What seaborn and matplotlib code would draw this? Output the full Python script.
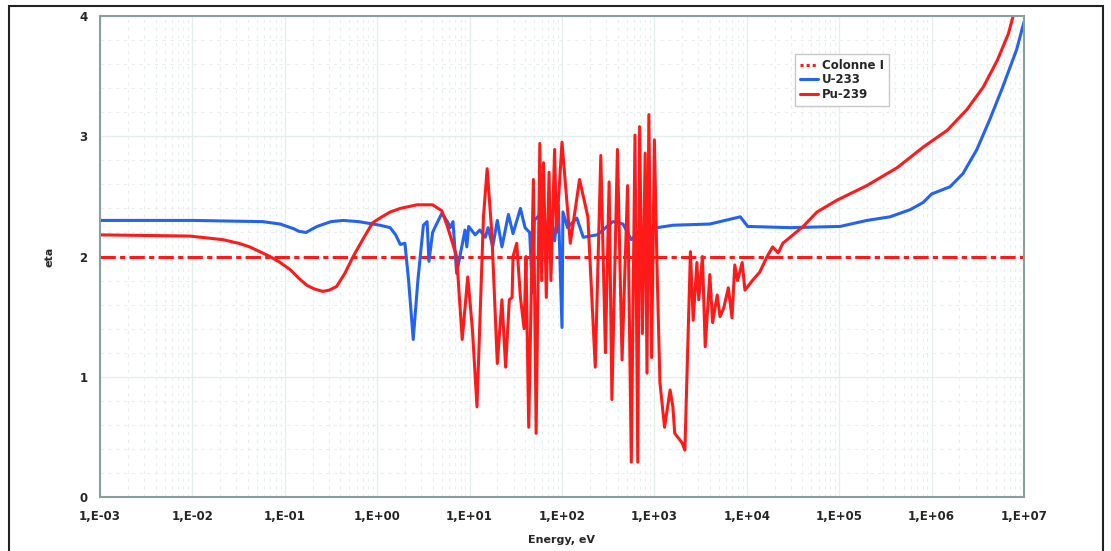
"""Eta vs neutron energy for U-233 and Pu-239."""

import numpy as np
import pandas as pd
import matplotlib
matplotlib.use("Agg")
import matplotlib.pyplot as plt
from matplotlib.lines import Line2D
from matplotlib.patches import Rectangle
import seaborn as sns

# data (energy given as log10 of eV)
u233_log_e = [-3.00, -2.00, -1.24, -1.05, -0.90, -0.85, -0.77, -0.70, -0.65, -0.50,
              -0.37, -0.20, 0.03, 0.14, 0.20, 0.25, 0.30, 0.34, 0.39, 0.44, 0.50,
              0.54, 0.56, 0.60, 0.63, 0.70, 0.76, 0.79, 0.82, 0.86, 0.95, 0.97,
              0.99, 1.06, 1.11, 1.17, 1.20, 1.25, 1.30, 1.35, 1.42, 1.47, 1.55,
              1.60, 1.65, 1.68, 1.70, 1.76, 1.82, 1.87, 1.92, 1.96, 2.00, 2.01,
              2.06, 2.16, 2.23, 2.38, 2.55, 2.66, 2.75, 2.82, 3.03, 3.20, 3.60,
              3.93, 4.01, 4.47, 5.01, 5.30, 5.55, 5.77, 5.91, 6.00, 6.20, 6.34,
              6.49, 6.63, 6.77, 6.92, 7.00]
u233_eta = [2.30, 2.30, 2.29, 2.27, 2.23, 2.21, 2.20, 2.23, 2.25, 2.29,
            2.30, 2.29, 2.26, 2.24, 2.18, 2.10, 2.11, 1.80, 1.31, 1.80, 2.26,
            2.29, 1.96, 2.20, 2.25, 2.36, 2.29, 2.24, 2.29, 1.86, 2.22, 2.08,
            2.25, 2.18, 2.22, 2.16, 2.24, 2.08, 2.30, 2.08, 2.35, 2.19, 2.40,
            2.24, 2.20, 1.70, 2.30, 2.35, 2.17, 2.39, 2.13, 2.43, 1.41, 2.37,
            2.24, 2.32, 2.16, 2.18, 2.29, 2.27, 2.14, 2.20, 2.24, 2.26, 2.27,
            2.33, 2.25, 2.24, 2.25, 2.30, 2.33, 2.39, 2.45, 2.52, 2.58, 2.69,
            2.89, 3.14, 3.41, 3.72, 3.95]

pu239_log_e = [-3.00, -2.03, -1.67, -1.50, -1.38, -1.16, -1.05, -0.94, -0.85, -0.76,
               -0.68, -0.59, -0.52, -0.44, -0.35, -0.26, -0.15, -0.05, 0.03, 0.14,
               0.25, 0.43, 0.60, 0.70, 0.76, 0.86, 0.92, 0.98, 1.03, 1.08,
               1.15, 1.19, 1.24, 1.30, 1.35, 1.39, 1.43, 1.46, 1.47, 1.51, 1.55,
               1.59, 1.61, 1.64, 1.69, 1.72, 1.76, 1.78, 1.80, 1.83, 1.86, 1.88,
               1.92, 1.94, 2.00, 2.09, 2.19, 2.28, 2.36, 2.42, 2.47, 2.51, 2.54,
               2.60, 2.65, 2.71, 2.75, 2.79, 2.82, 2.84, 2.87, 2.90, 2.92, 2.94,
               2.97, 3.00, 3.03, 3.06, 3.11, 3.17, 3.20, 3.22, 3.30, 3.33, 3.39,
               3.42, 3.46, 3.48, 3.52, 3.55, 3.60, 3.63, 3.68, 3.71, 3.75, 3.80,
               3.84, 3.87, 3.90, 3.95, 3.98, 4.06, 4.14, 4.22, 4.28, 4.34, 4.39,
               4.50, 4.61, 4.76, 4.98, 5.30, 5.63, 5.91, 6.17, 6.38, 6.56, 6.71,
               6.83, 6.90]
pu239_eta = [2.18, 2.17, 2.14, 2.11, 2.08, 2.00, 1.95, 1.89, 1.82, 1.76,
             1.73, 1.71, 1.72, 1.75, 1.86, 2.00, 2.15, 2.28, 2.32, 2.37,
             2.40, 2.43, 2.43, 2.38, 2.25, 2.00, 1.31, 1.83, 1.40, 0.75,
             2.33, 2.73, 2.20, 1.11, 1.64, 1.08, 1.64, 1.66, 2.00, 2.11, 1.66,
             1.40, 2.00, 0.58, 2.64, 0.53, 2.94, 1.80, 2.78, 1.66, 2.70, 1.80,
             2.89, 2.20, 2.95, 2.11, 2.64, 2.33, 1.08, 2.84, 1.20, 2.62, 0.81,
             2.89, 1.14, 2.59, 0.29, 3.01, 0.29, 3.08, 1.36, 2.86, 1.03, 3.18,
             1.16, 2.97, 1.86, 0.95, 0.58, 0.89, 0.75, 0.53, 0.45, 0.39, 2.04,
             1.47, 1.95, 1.64, 2.00, 1.25, 1.85, 1.45, 1.68, 1.50, 1.57, 1.74,
             1.49, 1.93, 1.80, 1.95, 1.72, 1.80, 1.87, 2.00, 2.08, 2.03, 2.11,
             2.18, 2.25, 2.37, 2.47, 2.59, 2.74, 2.91, 3.05, 3.22, 3.41, 3.63,
             3.85, 4.05]

colonne_energy = [1e-3, 1e7]
colonne_eta = [2.0, 2.0]

x_ticks = [1e-3, 1e-2, 1e-1, 1e0, 1e1, 1e2, 1e3, 1e4, 1e5, 1e6, 1e7]
x_tick_labels = ["1,E-03", "1,E-02", "1,E-01", "1,E+00", "1,E+01", "1,E+02",
                 "1,E+03", "1,E+04", "1,E+05", "1,E+06", "1,E+07"]
y_ticks = [0, 1, 2, 3, 4]

RED = "#ff1a1a"
BLUE = "#2462f0"
SPINE = "#8a9e9e"

sns.set_theme(style="white")
plt.rcParams["font.family"] = ["DejaVu Sans"]
plt.rcParams["font.weight"] = "bold"

u233 = pd.DataFrame({"energy": 10 ** np.array(u233_log_e), "eta": u233_eta})
pu239 = pd.DataFrame({"energy": 10 ** np.array(pu239_log_e), "eta": pu239_eta})
colonne = pd.DataFrame({"energy": colonne_energy, "eta": colonne_eta})

fig = plt.figure(figsize=(11.11, 5.51), dpi=100)
ax = fig.add_axes([100 / 1111, 54 / 551, 924 / 1111, 481 / 551])
ax.set_xscale("log")

# grid: solid majors, faint dashed minors
ax.set_xticks(x_ticks)
ax.set_xticks([m * d for d in x_ticks[:-1] for m in range(2, 10)], minor=True)
ax.set_yticks(y_ticks)
ax.set_yticks(np.arange(0, 4.01, 0.2), minor=True)
ax.grid(which="major", color="#e6eded", linewidth=1.0, linestyle="-")
ax.grid(which="minor", color="#e9eeee", linewidth=0.8, linestyle=(0, (3, 4)))
ax.set_axisbelow(True)

sns.lineplot(data=colonne, x="energy", y="eta", ax=ax, color=RED, linewidth=2.2,
             sort=False, estimator=None, label="Colonne I")
ax.lines[-1].set_dashes([5, 1.4, 1.7, 1.4])
ax.lines[-1].set_dash_capstyle("butt")
sns.lineplot(data=u233, x="energy", y="eta", ax=ax, color=BLUE, linewidth=2.2,
             sort=False, estimator=None, label="U-233")
sns.lineplot(data=pu239, x="energy", y="eta", ax=ax, color=RED, linewidth=2.2,
             sort=False, estimator=None, label="Pu-239")
for line in ax.lines:
    line.set_solid_joinstyle("round")

ax.set_xlim(1e-3, 1e7)
ax.set_ylim(0, 4)
ax.set_xticklabels(x_tick_labels)
ax.tick_params(axis="both", which="major", labelsize=8.5, length=5, width=1,
               color=SPINE, direction="out", pad=4)
ax.tick_params(axis="both", which="minor", length=0)
ax.tick_params(axis="x", pad=4)
for label in ax.get_xticklabels() + ax.get_yticklabels():
    label.set_fontweight("bold")

for spine in ax.spines.values():
    spine.set_color(SPINE)
    spine.set_linewidth(1.5)

ax.set_xlabel("Energy, eV", fontsize=8, fontweight="bold", labelpad=9)
ax.set_ylabel("eta", fontsize=8, fontweight="bold", labelpad=18)

handles = [
    Line2D([], [], color=RED, linewidth=2.2, linestyle=(0, (1, 1))),
    Line2D([], [], color=BLUE, linewidth=2.2),
    Line2D([], [], color=RED, linewidth=2.2),
]
leg = ax.legend(handles, ["Colonne I", "U-233", "Pu-239"], loc="upper left",
                bbox_to_anchor=(0.752, 0.921), borderaxespad=0, fancybox=False,
                framealpha=1, edgecolor="#c8c8c8", fontsize=8.5, handlelength=1.6,
                handletextpad=0.3, labelspacing=0.15, borderpad=0.4)
for t in leg.get_texts():
    t.set_fontweight("bold")
leg.get_frame().set_linewidth(1.0)

# outer border of the picture
fig.patches.append(Rectangle((9 / 1111, -0.05), 1094 / 1111, 1.05 - 6 / 551,
                             transform=fig.transFigure, fill=False,
                             edgecolor="#222222", linewidth=1.5))

fig.savefig("out.png", dpi=100)
plt.close(fig)
